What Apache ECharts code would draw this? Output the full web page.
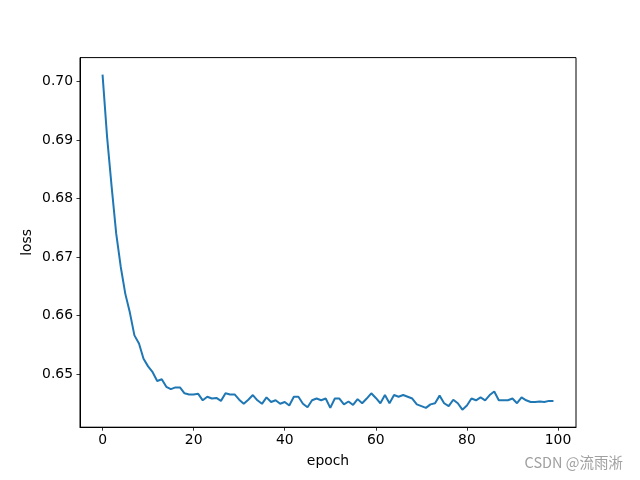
<!DOCTYPE html>
<html>
<head>
<meta charset="utf-8">
<script src="https://cdn.jsdelivr.net/npm/echarts@6/dist/echarts.min.js"></script>
<style>html,body{margin:0;padding:0;background:#fff}#c{width:640px;height:480px}</style>
</head>
<body>
<div id="c"></div>
<script>
const epochs = Array.from({length: 100}, (_, i) => i);
const loss = [
  0.7012, 0.6905, 0.6820, 0.6740, 0.6683, 0.6637, 0.6605, 0.6566, 0.6552, 0.6526,
  0.6513, 0.6503, 0.6488, 0.6491, 0.6478, 0.6474, 0.6477, 0.6477, 0.6467, 0.6465,
  0.6465, 0.6466, 0.6455, 0.6461, 0.6458, 0.6459, 0.6454, 0.6467, 0.6465, 0.6465,
  0.6456, 0.6449, 0.6456, 0.6464, 0.6455, 0.6449, 0.6460, 0.6452, 0.6455, 0.6449,
  0.6452, 0.6446, 0.6461, 0.6461, 0.6449, 0.6443, 0.6455, 0.6458, 0.6455, 0.6458,
  0.6442, 0.6458, 0.6458, 0.6448, 0.6453, 0.6447, 0.6457, 0.6450, 0.6458, 0.6467,
  0.6459, 0.6450, 0.6464, 0.6450, 0.6464, 0.6461, 0.6464, 0.6461, 0.6458, 0.6448,
  0.6445, 0.6442, 0.6448, 0.6450, 0.6463, 0.6450, 0.6445, 0.6456, 0.6450, 0.6439,
  0.6446, 0.6458, 0.6455, 0.6460, 0.6455, 0.6464, 0.6470, 0.6455, 0.6455, 0.6455,
  0.6458, 0.6450, 0.6460, 0.6455, 0.6452, 0.6452, 0.6453, 0.6452, 0.6454, 0.6454
];
const xTicks = [0, 20, 40, 60, 80, 100];
const yTicks = [0.65, 0.66, 0.67, 0.68, 0.69, 0.70];
const xLabel = 'epoch';
const yLabel = 'loss';
const watermark = 'CSDN @流雨淅';

const chart = echarts.init(document.getElementById('c'), null, {renderer: 'canvas'});
const font = 'DejaVu Sans';
chart.setOption({
  animation: false,
  backgroundColor: '#ffffff',
  title: {
    text: watermark, right: 12, bottom: 5,
    textStyle: {fontFamily: 'Noto Sans CJK SC', fontSize: 14.5, fontWeight: 'normal', color: '#a0a0a0'}
  },
  grid: {left: 80, top: 57.6, width: 496, height: 369.6, show: true,
         borderColor: '#000', borderWidth: 1, backgroundColor: 'transparent', containLabel: false},
  xAxis: {
    type: 'value', min: -4.95, max: 103.95,
    name: xLabel, nameLocation: 'middle', nameGap: 27, nameMoveOverlap: false,
    nameTextStyle: {fontFamily: font, fontSize: 13.9, color: '#000'},
    axisLine: {show: true, onZero: false, lineStyle: {color: '#000', width: 1}},
    axisTick: {show: true, length: 3.5, lineStyle: {color: '#000', width: 0.8}, customValues: xTicks},
    axisLabel: {fontFamily: font, fontSize: 13.9, color: '#000', margin: 6, customValues: xTicks,
                formatter: v => String(v)},
    splitLine: {show: false}
  },
  yAxis: {
    type: 'value', min: 0.6409, max: 0.7041,
    name: yLabel, nameLocation: 'middle', nameGap: 46, nameRotate: 90, nameMoveOverlap: false,
    nameTextStyle: {fontFamily: font, fontSize: 13.9, color: '#000'},
    axisLine: {show: true, onZero: false, lineStyle: {color: '#000', width: 1}},
    axisTick: {show: true, length: 3.5, lineStyle: {color: '#000', width: 0.8}, customValues: yTicks},
    axisLabel: {fontFamily: font, fontSize: 13.9, color: '#000', margin: 7, customValues: yTicks,
                formatter: v => v.toFixed(2)},
    splitLine: {show: false}
  },
  series: [{
    type: 'line',
    data: epochs.map((e, i) => [e, loss[i]]),
    showSymbol: false,
    symbol: 'none',
    lineStyle: {color: '#1f77b4', width: 2},
    clip: true
  }]
});
</script>
</body>
</html>
